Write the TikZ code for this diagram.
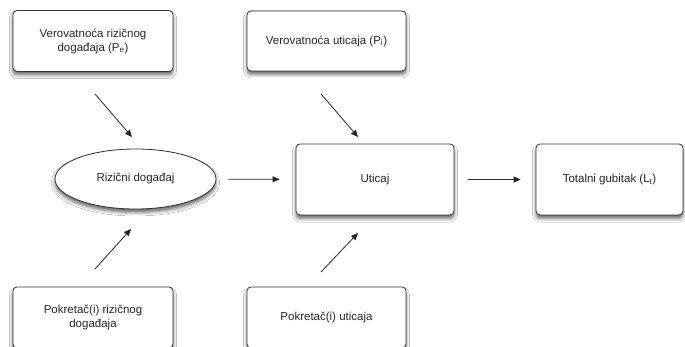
\documentclass[tikz,border=0pt]{standalone}
\usepackage{fontspec}
\setmainfont{Liberation Sans}
\usetikzlibrary{shapes.geometric,shadows.blur,arrows.meta}
\begin{document}
\begin{tikzpicture}[x=1pt,y=-1pt,
  every node/.style={font=\fontsize{11.5}{14}\selectfont, text=black!85},
  card/.style={draw=black!80, line width=0.8pt, rounded corners=4pt, fill=white,
    align=center, inner sep=0pt,
    blur shadow={shadow xshift=0pt, shadow yshift=-3.5pt, shadow blur radius=3.5pt, shadow opacity=60}},
  oval/.style={card, ellipse, rounded corners=0pt},
  flow/.style={-{Triangle[length=7pt,width=6pt]}, line width=0.8pt, draw=black!85}]
\useasboundingbox (0,0) rectangle (685,347);
\clip (0,0) rectangle (685,347);
\fill[white] (0,0) rectangle (685,347);

\node[card, minimum width=160pt, minimum height=61pt] (pe) at (93,41)
  {Verovatnoća rizičnog\\događaja (P\textsubscript{e})};
\node[card, minimum width=159pt, minimum height=60pt] (pi) at (326.5,41)
  {Verovatnoća uticaja (P\textsubscript{i})};
\node[oval, minimum width=161pt, minimum height=60pt] (re) at (135.5,179)
  {Rizični događaj};
\node[card, minimum width=158pt, minimum height=71pt] (ut) at (375,179.5)
  {Uticaj};
\node[card, minimum width=147pt, minimum height=71pt] (lt) at (609.5,179.5)
  {Totalni gubitak (L\textsubscript{t})};
\node[card, minimum width=160pt, minimum height=61pt] (dre) at (93,317.5)
  {Pokretač(i) rizičnog\\događaja};
\node[card, minimum width=159pt, minimum height=61pt] (dut) at (326.5,317.5)
  {Pokretač(i) uticaja};

% free-standing diagonal arrows between the rows
\coordinate (a1s) at (95,94);   \coordinate (a1e) at (132,137);
\coordinate (a2s) at (321,94);  \coordinate (a2e) at (358,137);
\coordinate (a3s) at (95,269);  \coordinate (a3e) at (131,229);
\coordinate (a4s) at (321,272); \coordinate (a4e) at (358,233);
\draw[flow] (a1s) -- (a1e);
\draw[flow] (a2s) -- (a2e);
\draw[flow] (a3s) -- (a3e);
\draw[flow] (a4s) -- (a4e);

% main chain
\draw[flow, shorten <=12pt, shorten >=16pt] (re) -- (ut);
\draw[flow, shorten <=14pt, shorten >=15pt] (ut) -- (lt);
\end{tikzpicture}
\end{document}
